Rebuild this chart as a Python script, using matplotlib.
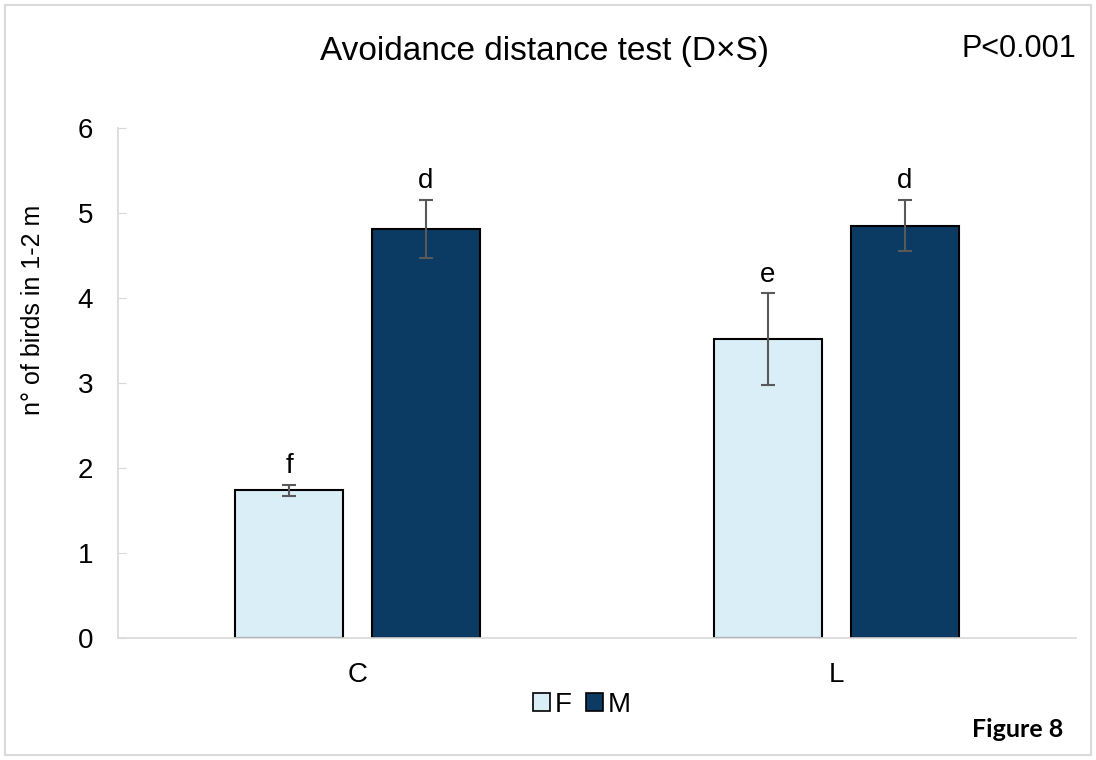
import matplotlib
matplotlib.use("Agg")
import matplotlib.pyplot as plt
import numpy as np
from matplotlib.patches import Patch, Rectangle

categories = ["C", "L"]
series_names = ["F", "M"]
values_F = [1.74, 3.52]
values_M = [4.81, 4.85]
err_F = [0.065, 0.54]
err_M = [0.34, 0.30]
letters_F = ["f", "e"]
letters_M = ["d", "d"]

plt.rcParams['font.family'] = ['Liberation Sans', 'DejaVu Sans']

fig = plt.figure(figsize=(10.96, 7.6), dpi=100)
ax = fig.add_axes([0.1077, 0.1605, 0.8741, 0.6711])

x = np.arange(len(categories))
w = 0.225
off = 0.143
cF = "#DAEEF8"
cM = "#0B3A62"
ecol = "#595959"

ax.bar(x - off, values_F, width=w, color=cF, edgecolor="black", linewidth=1.5, zorder=2)
ax.bar(x + off, values_M, width=w, color=cM, edgecolor="black", linewidth=1.5, zorder=2)
ax.errorbar(x - off, values_F, yerr=err_F, fmt="none", ecolor=ecol, elinewidth=1.5, capsize=5, capthick=1.5, zorder=3)
ax.errorbar(x + off, values_M, yerr=err_M, fmt="none", ecolor=ecol, elinewidth=1.5, capsize=5, capthick=1.5, zorder=3)

for i in range(len(categories)):
    ax.annotate(letters_F[i], (x[i] - off, values_F[i] + err_F[i]), xytext=(0, 8),
                textcoords="offset points", ha="center", va="baseline", fontsize=20)
    ax.annotate(letters_M[i], (x[i] + off, values_M[i] + err_M[i]), xytext=(0, 9),
                textcoords="offset points", ha="center", va="baseline", fontsize=20)

ax.set_xlim(-0.5, 1.5)
ax.set_ylim(0, 6)
ax.set_yticks(range(0, 7))
ax.set_xticks(x)
ax.set_xticklabels(categories)
ax.tick_params(axis="y", labelsize=20, length=6, direction="in", color="#D9D9D9", pad=18)
ax.tick_params(axis="x", labelsize=20, length=0, pad=17)
for s in ["top", "right"]:
    ax.spines[s].set_visible(False)
ax.spines["left"].set_color("#D9D9D9")
ax.spines["bottom"].set_color("#D9D9D9")
ax.spines["left"].set_linewidth(1.2)
ax.spines["bottom"].set_linewidth(1.2)
ax.set_ylabel("n° of birds in 1-2 m", fontsize=18)
ax.yaxis.set_label_coords(45/1096, 1 - 310/760, transform=fig.transFigure)

fig.text(545/1096, 1 - 60/760, "Avoidance distance test (D×S)", ha="center", va="baseline", fontsize=24)
fig.text(1019/1096, 1 - 57/760, "P<0.001", ha="center", va="baseline", fontsize=22)
fig.text(1063/1096, 1 - 737/760, "Figure 8", ha="right", va="baseline", fontsize=18,
         fontweight="bold", family=["Lato", "DejaVu Sans"])

handles = [Patch(facecolor=cF, edgecolor="black", linewidth=1.2),
           Patch(facecolor=cM, edgecolor="black", linewidth=1.2)]
fig.legend(handles, series_names, loc="center", bbox_to_anchor=(582/1096, 1 - 705/760),
           ncol=2, frameon=False, fontsize=20, handlelength=0.6, handleheight=0.6,
           handletextpad=0.2, columnspacing=0.5)

fig.patches.append(Rectangle((5/1096, 5/760), 1 - 10/1096, 1 - 10/760, transform=fig.transFigure,
                             fill=False, edgecolor="#D9D9D9", linewidth=1.5))

fig.savefig("out.png", dpi=100)
